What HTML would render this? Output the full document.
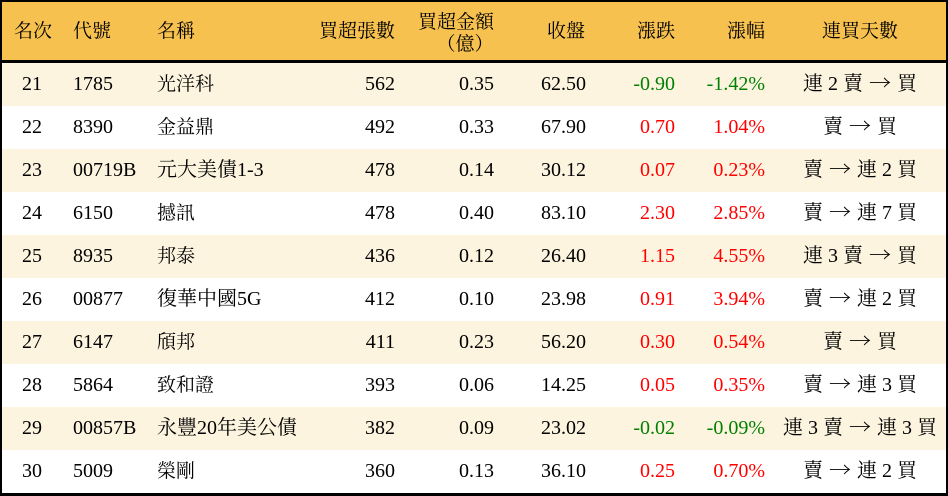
<!DOCTYPE html>
<html><head><meta charset="utf-8">
<style>
*{margin:0;padding:0;box-sizing:border-box}
html,body{width:948px;height:496px;overflow:hidden;background:#000}
body{position:relative;font-family:"Liberation Serif","Noto Serif CJK SC","Noto Serif CJK TC",serif;font-size:20px;color:#000}
.tbl{position:absolute;left:2px;top:63px;width:944px;height:430px;background:#fff}
.hdr{position:absolute;left:2px;top:2px;width:944px;height:58px;background:#F7C14F}
.row{position:absolute;left:2px;width:944px;height:43px;line-height:43px}
.odd{background:#FDF4DF}
.even{background:#fff}
.c{position:absolute;top:0;white-space:nowrap}
.cj{font-size:19px}
.g{color:#008000}
.r{color:#ff0000}
.a{display:inline-block;width:24px;text-align:center;font-family:"Noto Serif CJK SC","DejaVu Serif",serif;font-size:20px;line-height:20px;vertical-align:baseline;transform:scaleX(1.1)}
</style></head><body>
<div class="tbl"></div>
<div class="hdr">
  <div class="c cj" style="left:0;width:62px;text-align:center;line-height:60px">名次</div>
  <div class="c cj" style="left:71px;line-height:60px">代號</div>
  <div class="c cj" style="left:155px;line-height:60px">名稱</div>
  <div class="c cj" style="left:0;width:393px;text-align:right;line-height:60px">買超張數</div>
  <div class="c cj" style="left:0;width:492px;text-align:right;top:10px;line-height:21px">買超金額</div>
  <div class="c cj" style="left:434px;width:58px;text-align:center;top:32px;line-height:21px">（億）</div>
  <div class="c cj" style="left:0;width:583px;text-align:right;line-height:60px">收盤</div>
  <div class="c cj" style="left:0;width:673px;text-align:right;line-height:60px">漲跌</div>
  <div class="c cj" style="left:0;width:763px;text-align:right;line-height:60px">漲幅</div>
  <div class="c cj" style="left:758px;width:200px;text-align:center;line-height:60px">連買天數</div>
</div>

<div class="row odd" style="top:63px">
  <div class="c" style="left:0;width:60px;text-align:center">21</div>
  <div class="c" style="left:71px">1785</div>
  <div class="c cj" style="left:155px">光洋科</div>
  <div class="c" style="left:0;width:393px;text-align:right">562</div>
  <div class="c" style="left:0;width:492px;text-align:right">0.35</div>
  <div class="c" style="left:0;width:584px;text-align:right">62.50</div>
  <div class="c g" style="left:0;width:673px;text-align:right">-0.90</div>
  <div class="c g" style="left:0;width:763px;text-align:right">-1.42%</div>
  <div class="c" style="left:758px;width:200px;text-align:center">連 2 賣 <span class="a">→</span> 買</div>
</div>
<div class="row even" style="top:106px">
  <div class="c" style="left:0;width:60px;text-align:center">22</div>
  <div class="c" style="left:71px">8390</div>
  <div class="c cj" style="left:155px">金益鼎</div>
  <div class="c" style="left:0;width:393px;text-align:right">492</div>
  <div class="c" style="left:0;width:492px;text-align:right">0.33</div>
  <div class="c" style="left:0;width:584px;text-align:right">67.90</div>
  <div class="c r" style="left:0;width:673px;text-align:right">0.70</div>
  <div class="c r" style="left:0;width:763px;text-align:right">1.04%</div>
  <div class="c" style="left:758px;width:200px;text-align:center">賣 <span class="a">→</span> 買</div>
</div>
<div class="row odd" style="top:149px">
  <div class="c" style="left:0;width:60px;text-align:center">23</div>
  <div class="c" style="left:71px">00719B</div>
  <div class="c" style="left:155px">元大美債1-3</div>
  <div class="c" style="left:0;width:393px;text-align:right">478</div>
  <div class="c" style="left:0;width:492px;text-align:right">0.14</div>
  <div class="c" style="left:0;width:584px;text-align:right">30.12</div>
  <div class="c r" style="left:0;width:673px;text-align:right">0.07</div>
  <div class="c r" style="left:0;width:763px;text-align:right">0.23%</div>
  <div class="c" style="left:758px;width:200px;text-align:center">賣 <span class="a">→</span> 連 2 買</div>
</div>
<div class="row even" style="top:192px">
  <div class="c" style="left:0;width:60px;text-align:center">24</div>
  <div class="c" style="left:71px">6150</div>
  <div class="c cj" style="left:155px">撼訊</div>
  <div class="c" style="left:0;width:393px;text-align:right">478</div>
  <div class="c" style="left:0;width:492px;text-align:right">0.40</div>
  <div class="c" style="left:0;width:584px;text-align:right">83.10</div>
  <div class="c r" style="left:0;width:673px;text-align:right">2.30</div>
  <div class="c r" style="left:0;width:763px;text-align:right">2.85%</div>
  <div class="c" style="left:758px;width:200px;text-align:center">賣 <span class="a">→</span> 連 7 買</div>
</div>
<div class="row odd" style="top:235px">
  <div class="c" style="left:0;width:60px;text-align:center">25</div>
  <div class="c" style="left:71px">8935</div>
  <div class="c cj" style="left:155px">邦泰</div>
  <div class="c" style="left:0;width:393px;text-align:right">436</div>
  <div class="c" style="left:0;width:492px;text-align:right">0.12</div>
  <div class="c" style="left:0;width:584px;text-align:right">26.40</div>
  <div class="c r" style="left:0;width:673px;text-align:right">1.15</div>
  <div class="c r" style="left:0;width:763px;text-align:right">4.55%</div>
  <div class="c" style="left:758px;width:200px;text-align:center">連 3 賣 <span class="a">→</span> 買</div>
</div>
<div class="row even" style="top:278px">
  <div class="c" style="left:0;width:60px;text-align:center">26</div>
  <div class="c" style="left:71px">00877</div>
  <div class="c" style="left:155px">復華中國5G</div>
  <div class="c" style="left:0;width:393px;text-align:right">412</div>
  <div class="c" style="left:0;width:492px;text-align:right">0.10</div>
  <div class="c" style="left:0;width:584px;text-align:right">23.98</div>
  <div class="c r" style="left:0;width:673px;text-align:right">0.91</div>
  <div class="c r" style="left:0;width:763px;text-align:right">3.94%</div>
  <div class="c" style="left:758px;width:200px;text-align:center">賣 <span class="a">→</span> 連 2 買</div>
</div>
<div class="row odd" style="top:321px">
  <div class="c" style="left:0;width:60px;text-align:center">27</div>
  <div class="c" style="left:71px">6147</div>
  <div class="c cj" style="left:155px">頎邦</div>
  <div class="c" style="left:0;width:393px;text-align:right">411</div>
  <div class="c" style="left:0;width:492px;text-align:right">0.23</div>
  <div class="c" style="left:0;width:584px;text-align:right">56.20</div>
  <div class="c r" style="left:0;width:673px;text-align:right">0.30</div>
  <div class="c r" style="left:0;width:763px;text-align:right">0.54%</div>
  <div class="c" style="left:758px;width:200px;text-align:center">賣 <span class="a">→</span> 買</div>
</div>
<div class="row even" style="top:364px">
  <div class="c" style="left:0;width:60px;text-align:center">28</div>
  <div class="c" style="left:71px">5864</div>
  <div class="c cj" style="left:155px">致和證</div>
  <div class="c" style="left:0;width:393px;text-align:right">393</div>
  <div class="c" style="left:0;width:492px;text-align:right">0.06</div>
  <div class="c" style="left:0;width:584px;text-align:right">14.25</div>
  <div class="c r" style="left:0;width:673px;text-align:right">0.05</div>
  <div class="c r" style="left:0;width:763px;text-align:right">0.35%</div>
  <div class="c" style="left:758px;width:200px;text-align:center">賣 <span class="a">→</span> 連 3 買</div>
</div>
<div class="row odd" style="top:407px">
  <div class="c" style="left:0;width:60px;text-align:center">29</div>
  <div class="c" style="left:71px">00857B</div>
  <div class="c" style="left:155px">永豐20年美公債</div>
  <div class="c" style="left:0;width:393px;text-align:right">382</div>
  <div class="c" style="left:0;width:492px;text-align:right">0.09</div>
  <div class="c" style="left:0;width:584px;text-align:right">23.02</div>
  <div class="c g" style="left:0;width:673px;text-align:right">-0.02</div>
  <div class="c g" style="left:0;width:763px;text-align:right">-0.09%</div>
  <div class="c" style="left:758px;width:200px;text-align:center">連 3 賣 <span class="a">→</span> 連 3 買</div>
</div>
<div class="row even" style="top:450px">
  <div class="c" style="left:0;width:60px;text-align:center">30</div>
  <div class="c" style="left:71px">5009</div>
  <div class="c cj" style="left:155px">榮剛</div>
  <div class="c" style="left:0;width:393px;text-align:right">360</div>
  <div class="c" style="left:0;width:492px;text-align:right">0.13</div>
  <div class="c" style="left:0;width:584px;text-align:right">36.10</div>
  <div class="c r" style="left:0;width:673px;text-align:right">0.25</div>
  <div class="c r" style="left:0;width:763px;text-align:right">0.70%</div>
  <div class="c" style="left:758px;width:200px;text-align:center">賣 <span class="a">→</span> 連 2 買</div>
</div>
</body></html>
